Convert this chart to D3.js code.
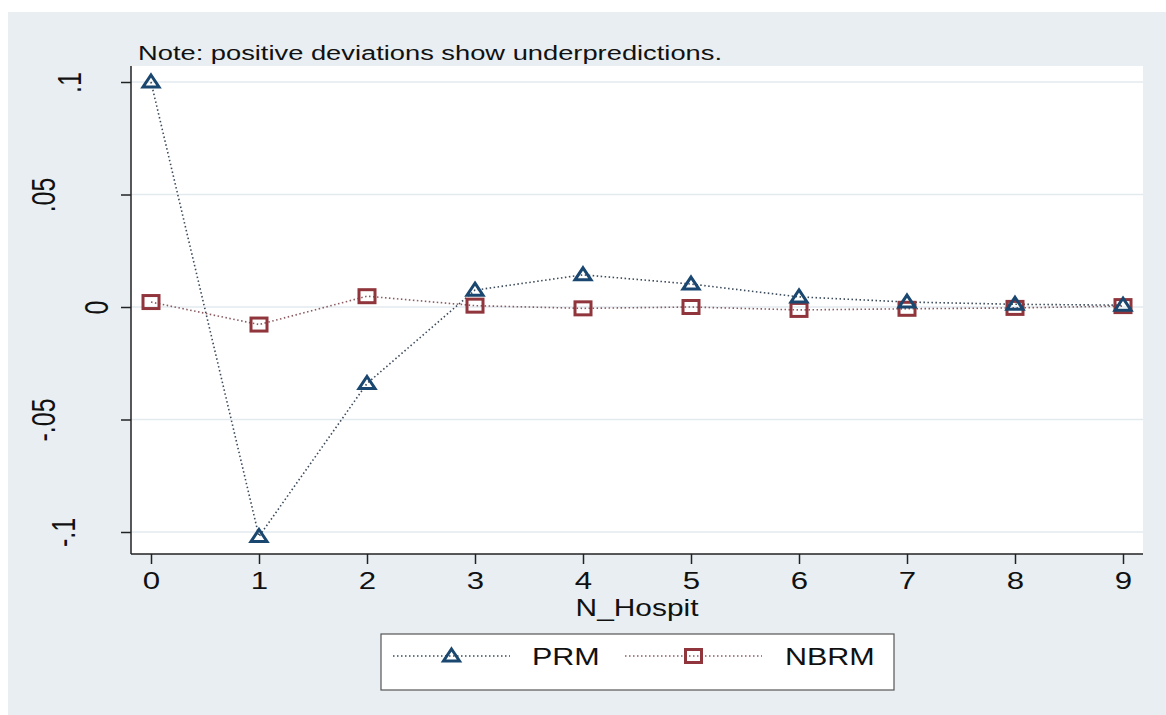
<!DOCTYPE html>
<html lang="en">
<head>
    <meta charset="UTF-8"/>
    <title>Deviations by N_Hospit</title>
    <script src="https://cdnjs.cloudflare.com/ajax/libs/d3/7.8.5/d3.min.js"></script>
    <style>
        body { margin: 0; background: #ffffff; }
        text { font-family: "Liberation Sans", Arial, sans-serif; fill: #111; }
    </style>
</head>
<body>
<div id="chart"></div>
<script>
    // Data
    const nHospit = [0, 1, 2, 3, 4, 5, 6, 7, 8, 9];
    const prm = [0.1, -0.102, -0.034, 0.0075, 0.0143, 0.0102, 0.0045, 0.0022, 0.0012, 0.0008];
    const nbrm = [0.0022, -0.0078, 0.0048, 0.0006, -0.0006, 0.0000, -0.0013, -0.0008, -0.0004, 0.0004];
    const yTicks = [-0.1, -0.05, 0, 0.05, 0.1];
    const yTickLabels = ["-.1", "-.05", "0", ".05", ".1"];
    const seriesNames = ["PRM", "NBRM"];

    const width = 1166, height = 715;
    const plot = {left: 131, right: 1143, top: 66, bottom: 554};
    const stretch = 1.3; // the reference text is drawn wide

    const svg = d3.select("#chart").append("svg")
        .attr("width", width)
        .attr("height", height);

    // Outer panel
    svg.append("rect")
        .attr("x", 8).attr("y", 12)
        .attr("width", width - 8).attr("height", height - 12)
        .attr("fill", "#e8eef1");

    // Plot region
    svg.append("rect")
        .attr("x", plot.left).attr("y", plot.top)
        .attr("width", plot.right - plot.left).attr("height", plot.bottom - plot.top)
        .attr("fill", "#ffffff");

    const x = d3.scaleLinear().domain([0, 9]).range([151, 1123]);
    const y = d3.scaleLinear().domain([-0.1, 0.1]).range([532, 82]);

    // Grid lines
    svg.append("g").selectAll("line")
        .data(yTicks)
        .enter().append("line")
        .attr("x1", plot.left).attr("x2", plot.right)
        .attr("y1", d => y(d)).attr("y2", d => y(d))
        .attr("stroke", "#e2eaee")
        .attr("stroke-width", 1.5);

    // Y axis (labels sit at slightly different distances, as in the picture)
    const yLabelX = {"-.1": 63, "-.05": 43, "0": 96, ".05": 43, ".1": 69};
    const yAxis = svg.append("g")
        .attr("transform", `translate(${plot.left},0)`)
        .call(d3.axisLeft(y).tickValues(yTicks).tickSize(10)
            .tickFormat((d, i) => yTickLabels[i]));
    yAxis.select(".domain").attr("d", `M0,${plot.top}V${plot.bottom}`).attr("stroke", "#222").attr("stroke-width", 1.5);
    yAxis.selectAll(".tick line").attr("stroke", "#222").attr("stroke-width", 1.5);
    yAxis.selectAll(".tick text")
        .attr("x", 0).attr("y", 0).attr("dy", "0.36em")
        .attr("transform", (d, i) => `translate(${yLabelX[yTickLabels[i]] - plot.left},0) scale(${stretch},1) rotate(-90)`)
        .attr("text-anchor", "middle")
        .attr("fill", "#111")
        .style("font-size", "25px")
        .style("font-family", "Liberation Sans, Arial, sans-serif");

    // X axis
    const xAxis = svg.append("g")
        .attr("transform", `translate(0,${plot.bottom})`)
        .call(d3.axisBottom(x).tickValues(nHospit).tickSize(10).tickFormat(d3.format("d")));
    xAxis.select(".domain").attr("d", `M${plot.left},0H${plot.right}`).attr("stroke", "#222").attr("stroke-width", 1.5);
    xAxis.selectAll(".tick line").attr("stroke", "#222").attr("stroke-width", 1.5);
    xAxis.selectAll(".tick text")
        .attr("y", 18)
        .attr("transform", `scale(${stretch},1)`)
        .attr("fill", "#111")
        .style("font-size", "24px")
        .style("font-family", "Liberation Sans, Arial, sans-serif");

    svg.append("text")
        .attr("transform", `translate(637,616) scale(${stretch},1)`)
        .attr("text-anchor", "middle")
        .style("font-size", "23px")
        .text("N_Hospit");

    // Note
    svg.append("text")
        .attr("transform", `translate(138,60) scale(${stretch},1)`)
        .style("font-size", "21px")
        .text("Note: positive deviations show underpredictions.");

    // Series
    const colors = ["#1a476f", "#90353b"];
    const lineColors = ["#3a4a5a", "#8a5a60"];
    const allSeries = [prm, nbrm];

    const line = d3.line()
        .x((d, i) => x(nHospit[i]))
        .y(d => y(d));

    allSeries.forEach((s, k) => {
        svg.append("path")
            .datum(s)
            .attr("d", line)
            .attr("fill", "none")
            .attr("stroke", lineColors[k])
            .attr("stroke-width", 1.6)
            .attr("stroke-dasharray", "1.5,2.5");
    });

    function drawMarker(g, k, cx, cy) {
        if (k === 0) {
            g.append("path")
                .attr("d", "M0,-7L8,5L-8,5Z")
                .attr("transform", `translate(${cx},${cy})`)
                .attr("fill", "none")
                .attr("stroke", colors[0])
                .attr("stroke-width", 3)
                .attr("stroke-linejoin", "miter");
        } else {
            g.append("rect")
                .attr("x", cx - 8).attr("y", cy - 6.5)
                .attr("width", 16).attr("height", 13)
                .attr("fill", "none")
                .attr("stroke", colors[1])
                .attr("stroke-width", 3);
        }
    }

    // NBRM under PRM
    [1, 0].forEach(k => {
        const g = svg.append("g");
        allSeries[k].forEach((v, i) => drawMarker(g, k, x(nHospit[i]), y(v)));
    });

    // Legend
    const legend = svg.append("g");
    legend.append("rect")
        .attr("x", 381).attr("y", 634)
        .attr("width", 513).attr("height", 56)
        .attr("fill", "#ffffff")
        .attr("stroke", "#555")
        .attr("stroke-width", 1.2);

    const legendItems = [
        {x1: 393, x2: 510, tx: 532},
        {x1: 625, x2: 762, tx: 785}
    ];
    legendItems.forEach((it, k) => {
        legend.append("line")
            .attr("x1", it.x1).attr("x2", it.x2)
            .attr("y1", 656).attr("y2", 656)
            .attr("stroke", lineColors[k])
            .attr("stroke-width", 1.6)
            .attr("stroke-dasharray", "1.5,2.5");
        drawMarker(legend, k, (it.x1 + it.x2) / 2, 656);
        legend.append("text")
            .attr("transform", `translate(${it.tx},665) scale(1.27,1)`)
            .style("font-size", "24px")
            .text(seriesNames[k]);
    });
</script>
</body>
</html>
